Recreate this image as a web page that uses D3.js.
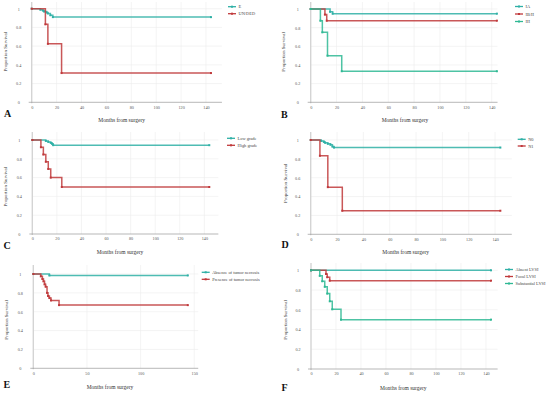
<!DOCTYPE html>
<html><head><meta charset="utf-8">
<script src="https://cdn.jsdelivr.net/npm/d3@7"></script>
<style>body{margin:0;background:#fff}svg{display:block}</style></head>
<body>
<svg id="c" width="550" height="393"></svg>
<script>
// ---------- data ----------
const xTicks140 = [0,20,40,60,80,100,120,140];
const xTicks150 = [0,50,100,150];
const yTicks = [0,0.2,0.4,0.6,0.8,1];
const yTickLabels = ["0","0.2","0.4","0.6","0.8","1"];
const xTitle = "Months from surgery";
const yTitle = "Proportion Survival";
const TEAL = "#2fb0a6", RED = "#c0393b", GREEN = "#2fb894";

// Panel A
const aNames = ["E","UN/DED"];
const aE_t = [0,7,9,10,12,13,15,17,144];
const aE_s = [1,0.99,0.98,0.97,0.96,0.95,0.93,0.91,0.91];
const aU_t = [0,11,13,24,144];
const aU_s = [1,0.833,0.625,0.3125,0.3125];
// Panel B
const bNames = ["IA","IB/II","III"];
const bIA_t = [0,15,17,144];
const bIA_s = [1,0.97,0.95,0.95];
const bIB_t = [0,11,12.4,144];
const bIB_s = [1,0.94,0.875,0.875];
const bIII_t = [0,7.5,9,13,24,144];
const bIII_s = [1,0.875,0.75,0.5,0.333,0.333];
// Panel C
const cNames = ["Low grade","High grade"];
const cLow_t = [0,11,13,15,16,17,144];
const cLow_s = [1,0.99,0.98,0.97,0.96,0.945,0.945];
const cHigh_t = [0,7,9,11,13,15,24,144];
const cHigh_s = [1,0.923,0.846,0.769,0.692,0.6,0.5,0.5];
// Panel D
const dNames = ["N0","N1"];
const dN0_t = [0,8,10,11,13,15,16.5,17.7,144];
const dN0_s = [1,0.99,0.98,0.97,0.96,0.95,0.93,0.92,0.92];
const dN1_t = [0,7,13,24,144];
const dN1_s = [1,0.833,0.5,0.25,0.25];
// Panel E
const eNames = ["Absence of tumor necrosis","Presence of tumor necrosis"];
const eAbs_t = [0,15,144];
const eAbs_s = [1,0.985,0.985];
const ePre_t = [0,7,8.5,9.5,10.5,11.5,12.8,13.7,15,16.5,24,144];
const ePre_s = [1,0.975,0.947,0.922,0.89,0.866,0.80,0.767,0.745,0.72,0.67,0.67];
// Panel F
const fNames = ["Absent LVSI","Focal LVSI","Substantial LVSI"];
const fAbs_t = [0,144];
const fAbs_s = [1,1];
const fFoc_t = [0,12,13,15,144];
const fFoc_s = [1,0.963,0.93,0.895,0.895];
const fSub_t = [0,7,9,11,13,15,17,24,144];
const fSub_s = [1,0.944,0.889,0.833,0.764,0.686,0.605,0.5,0.5];

// ---------- layout (pixels) ----------
const panels = [
  {letter:"A", ticks:xTicks140, ox:31.7, k:1.245, xMax:152.8, y0:102.3, y1:8.7, yTop:2,
   leg:[228,6.7,7], let:[4,117], tt:[121.7,121.5], yt:[5,51.7],
   series:[[aNames[0],aE_t,aE_s,TEAL],[aNames[1],aU_t,aU_s,RED]]},
  {letter:"B", ticks:xTicks140, ox:310.7, k:1.293, xMax:144.5, y0:102.3, y1:9, yTop:2,
   leg:[515,6.5,7.5], let:[281,118], tt:[405,121.5], yt:[283.5,52],
   series:[[bNames[0],bIA_t,bIA_s,TEAL],[bNames[1],bIB_t,bIB_s,RED],[bNames[2],bIII_t,bIII_s,GREEN]]},
  {letter:"C", ticks:xTicks140, ox:32.3, k:1.229, xMax:151.4, y0:234, y1:140, yTop:132,
   leg:[227,138.3,7], let:[3.5,249], tt:[120,253.5], yt:[5,186.7],
   series:[[cNames[0],cLow_t,cLow_s,TEAL],[cNames[1],cHigh_t,cHigh_s,RED]]},
  {letter:"D", ticks:xTicks140, ox:310.7, k:1.317, xMax:152.7, y0:234.3, y1:140, yTop:132,
   leg:[517.7,139.3,6.7], let:[281.5,248], tt:[405.7,254], yt:[285,183.3],
   series:[[dNames[0],dN0_t,dN0_s,TEAL],[dNames[1],dN1_t,dN1_s,RED]]},
  {letter:"E", ticks:xTicks150, ox:33.3, k:1.073, xMax:153.7, y0:368.3, y1:274, yTop:265,
   leg:[201.7,272.3,7], let:[3.5,388], tt:[110,389], yt:[6,320],
   series:[[eNames[0],eAbs_t,eAbs_s,TEAL],[eNames[1],ePre_t,ePre_s,RED]]},
  {letter:"F", ticks:xTicks140, ox:311, k:1.25, xMax:149.3, y0:369, y1:270.3, yTop:263,
   leg:[505,269.5,7], let:[281.5,390.5], tt:[403.3,390], yt:[285,320],
   series:[[fNames[0],fAbs_t,fAbs_s,TEAL],[fNames[1],fFoc_t,fFoc_s,RED],[fNames[2],fSub_t,fSub_s,GREEN]]}
];

const svg = d3.select("#c");
const SERIF = "'Liberation Serif','DejaVu Serif',serif";

panels.forEach(p => {
  const g = svg.append("g");
  const x = d3.scaleLinear().domain([0,p.xMax]).range([p.ox, p.ox + p.k*p.xMax]);
  const y = d3.scaleLinear().domain([0,1]).range([p.y0, p.y1]);
  const yMaxV = y.invert(p.yTop);

  // grid
  g.selectAll(".vg").data(p.ticks.filter(t=>t>0)).join("line")
    .attr("x1",d=>x(d)).attr("x2",d=>x(d)).attr("y1",y(0)).attr("y2",y(yMaxV))
    .attr("stroke","#ececec").attr("stroke-width",0.6);
  g.selectAll(".hg").data(yTicks.filter(t=>t>0)).join("line")
    .attr("x1",x(0)).attr("x2",x(p.xMax)).attr("y1",d=>y(d)).attr("y2",d=>y(d))
    .attr("stroke","#ececec").attr("stroke-width",0.6);

  // y axis line
  g.append("line").attr("x1",x(0)).attr("x2",x(0)).attr("y1",y(0)+1).attr("y2",y(yMaxV))
    .attr("stroke","#d4d4d4").attr("stroke-width",1.4);
  // x axis line
  g.append("line").attr("x1",x(0)-3).attr("x2",x(p.xMax)).attr("y1",y(0)).attr("y2",y(0))
    .attr("stroke","#9a9a9a").attr("stroke-width",0.7);

  // x tick labels via axis
  const xa = g.append("g").attr("transform",`translate(0,${y(0)})`)
    .call(d3.axisBottom(x).tickValues(p.ticks).tickSize(0).tickPadding(3.5));
  xa.select(".domain").remove();
  xa.selectAll("text").attr("font-family",SERIF).attr("font-size",4.2).attr("fill","#555");
  // y tick labels
  const ya = g.append("g").attr("transform",`translate(${x(0)},0)`)
    .call(d3.axisLeft(y).tickValues(yTicks).tickSize(0).tickPadding(0)
      .tickFormat((d,i)=>yTickLabels[i]));
  ya.select(".domain").remove();
  ya.selectAll("text").attr("font-family",SERIF).attr("font-size",4.2).attr("fill","#555")
    .attr("text-anchor","middle").attr("x",-13);

  // curves
  const line = d3.line().x(d=>x(d[0])).y(d=>y(d[1])).curve(d3.curveStepAfter);
  p.series.forEach(([name,t,s,col]) => {
    const pts = t.map((tt,i)=>[tt,s[i]]);
    g.append("path").attr("d",line(pts)).attr("fill","none")
      .attr("stroke",col).attr("stroke-width",1.5).attr("stroke-opacity",0.85);
    g.selectAll(null).data(pts).join("rect")
      .attr("x",d=>x(d[0])-1).attr("y",d=>y(d[1])-1).attr("width",2).attr("height",2)
      .attr("fill",col);
  });

  // legend
  p.series.forEach(([name,t,s,col],i) => {
    const ly = p.leg[1] + i*p.leg[2];
    g.append("line").attr("x1",p.leg[0]).attr("x2",p.leg[0]+8).attr("y1",ly).attr("y2",ly)
      .attr("stroke",col).attr("stroke-width",1.3);
    g.append("rect").attr("x",p.leg[0]+3).attr("y",ly-1).attr("width",2).attr("height",2).attr("fill",col);
    g.append("text").attr("x",p.leg[0]+10.5).attr("y",ly+1.5).text(name)
      .attr("font-family",SERIF).attr("font-size",4.4).attr("fill","#444");
  });

  // titles
  g.append("text").attr("x",p.tt[0]).attr("y",p.tt[1]).attr("text-anchor","middle")
    .attr("font-family",SERIF).attr("font-size",5.5).attr("fill","#333").text(xTitle);
  g.append("text").attr("transform",`translate(${p.yt[0]+1.8},${p.yt[1]}) rotate(-90)`)
    .attr("text-anchor","middle").attr("font-family",SERIF).attr("font-size",5)
    .attr("fill","#333").text(yTitle);
  g.append("text").attr("x",p.let[0]).attr("y",p.let[1]).attr("font-family",SERIF)
    .attr("font-weight","bold").attr("font-size",10).attr("fill","#111").text(p.letter);
});
</script>
</body></html>
